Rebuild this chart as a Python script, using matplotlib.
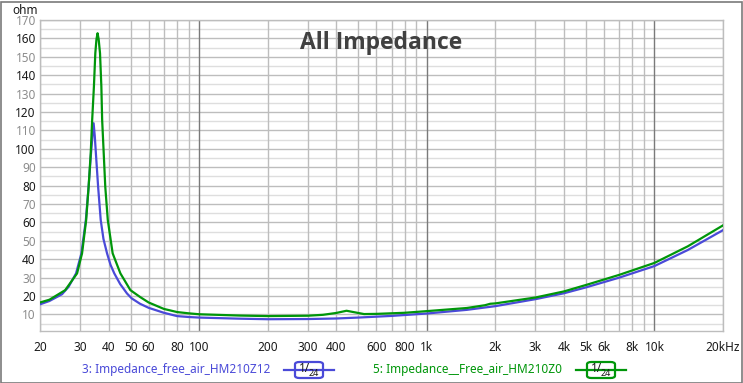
import numpy as np
import matplotlib.pyplot as plt
from matplotlib.patches import Rectangle, FancyBboxPatch
from matplotlib.lines import Line2D

plt.rcParams['font.family'] = ['Noto Sans', 'DejaVu Sans']

# HM210Z12 (blue) impedance
freq_z12 = [20, 22, 25, 26.7, 28.8, 30.4, 31.8, 32.7, 33.5, 34.0, 34.4, 34.8, 35.2, 36.0,
            36.96, 38.0, 39.4, 40.8, 42.4, 45, 48.2, 50.6, 55, 60, 70, 80, 90, 100, 150,
            200, 300, 400, 500, 700, 1000, 1500, 2000, 3000, 4000, 5000, 7000, 10000,
            14000, 20000]
imp_z12 = [15.5, 17.3, 21.0, 25, 32.3, 43.2, 61.3, 79.4, 97.5, 107, 113.9, 107, 97.5, 79.4,
           61.3, 51, 43.2, 37, 32.3, 26.5, 21.4, 18.7, 15.8, 13.6, 10.9, 9.1, 8.6, 8.3, 7.7,
           7.4, 7.5, 7.8, 8.3, 9.2, 10.5, 12.5, 14.5, 18.3, 21.5, 24.7, 30, 36.3,
           45, 55.8]

# HM210Z0 (green) impedance
freq_z0 = [20, 22, 25.8, 29.1, 30.6, 31.9, 32.7, 33.4, 33.9, 34.5, 34.99, 35.4, 35.8, 36.2,
           36.7, 37.2, 37.5, 38.1, 38.7, 39.7, 41.7, 45.1, 49.9, 55, 60, 70, 80, 90, 100,
           150, 200, 300, 350, 400, 444, 490, 530, 600, 800, 1000, 1500, 1800, 1900, 2000,
           3000, 4000, 5000, 7000, 10000, 14000, 20000]
imp_z0 = [16.5, 18, 23.2, 32.3, 43.2, 61.3, 79.4, 97.5, 115.7, 133.8, 151.9, 159.5, 162.8,
          159.5, 151.9, 133.8, 115.7, 97.5, 79.4, 61.3, 43.2, 32.3, 23.2, 19.5, 16.5, 13,
          11.3, 10.6, 10.1, 9.4, 9.1, 9.3, 9.8, 10.8, 12, 11, 10.2, 10.3, 10.9, 11.8,
          13.5, 15.0, 15.8, 16, 19.2, 22.5, 26, 31.5, 38, 47, 58.4]

x_ticks = [20, 30, 40, 50, 60, 80, 100, 200, 300, 400, 600, 800, 1000, 2000, 3000,
           4000, 5000, 6000, 8000, 10000, 20000]
x_labels = ['20', '30', '40', '50', '60', '80', '100', '200', '300', '400', '600', '800',
            '1k', '2k', '3k', '4k', '5k', '6k', '8k', '10k', '20kHz']
y_ticks = list(range(10, 171, 10))

blue = '#4a4ad8'
green = '#00960a'

fig = plt.figure(figsize=(7.43, 3.83), dpi=100)
ax = fig.add_axes([40/743, 1 - 331/383, 683/743, 311/383])

ax.set_xscale('log')
ax.set_xlim(20, 20000)
ax.set_ylim(1, 170)

# grid
for y in range(5, 171, 5):
    ax.axhline(y, color='#bdbdbd' if y % 10 == 0 else '#dedede', lw=1, zorder=0)
for dec in [10, 100, 1000, 10000]:
    for m in range(1, 10):
        f = dec * m
        if 20 <= f <= 20000:
            c = '#7a7a7a' if m == 1 and f > 20 else '#bdbdbd'
            ax.axvline(f, color=c, lw=1, zorder=0)

ax.plot(freq_z12, imp_z12, color=blue, lw=1.6, zorder=3, solid_joinstyle='round')
ax.plot(freq_z0, imp_z0, color=green, lw=1.6, zorder=4, solid_joinstyle='round')

ax.set_xticks(x_ticks)
ax.set_xticklabels(x_labels)
ax.xaxis.set_minor_locator(plt.NullLocator())
ax.set_yticks(y_ticks)
ax.set_yticklabels([str(v) for v in y_ticks])
for lab, v in zip(ax.get_yticklabels(), y_ticks):
    lab.set_color('#1a1a1a' if v % 20 == 0 else '#8c8c8c')
ax.tick_params(length=0, labelsize=8.5)
ax.tick_params(axis='x', pad=7, colors='#1a1a1a')
ax.tick_params(axis='y', pad=3)
for s in ax.spines.values():
    s.set_color('#bdbdbd')
    s.set_linewidth(1)

fig.text(12/743, 1 - 10/383, 'ohm', fontsize=8.5, fontweight='semibold', color='#1a1a1a',
         va='center')
fig.text(381/743, 1 - 43/383, 'All Impedance', fontsize=16.5, fontweight='bold',
         family='Open Sans', color='#404040', ha='center', va='center')

# legend
ly = 1 - 370/383
fig.text(82/743, ly, '3: Impedance_free_air_HM210Z12', color=blue, fontsize=8.5, va='center')
fig.text(373/743, ly, '5: Impedance__Free_air_HM210Z0', color=green, fontsize=8.5, va='center')
for x0, c in [(284, blue), (576, green)]:
    fig.add_artist(Line2D([x0/743, (x0 + 50)/743], [ly, ly], color=c, lw=1.6,
                          transform=fig.transFigure))
    fig.add_artist(FancyBboxPatch(((x0 + 11)/743, ly - 8/383), 28/743, 16/383,
                                  boxstyle='round,pad=0,rounding_size=0.006',
                                  transform=fig.transFigure, facecolor='white',
                                  edgecolor=c, lw=1.6))
    fig.text((x0 + 20)/743, ly + 1/383, '1/', fontsize=8.5, color='#1a1a1a',
             ha='center', va='center')
    fig.text((x0 + 30)/743, ly - 3/383, '24', fontsize=6.5, color='#1a1a1a',
             ha='center', va='center')

fig.add_artist(Rectangle((0.5/743, 0.5/383), 741/743, 381/383, fill=False,
                         edgecolor='#7a7a7a', lw=1.2, transform=fig.transFigure))

fig.savefig('out.png', dpi=100)
